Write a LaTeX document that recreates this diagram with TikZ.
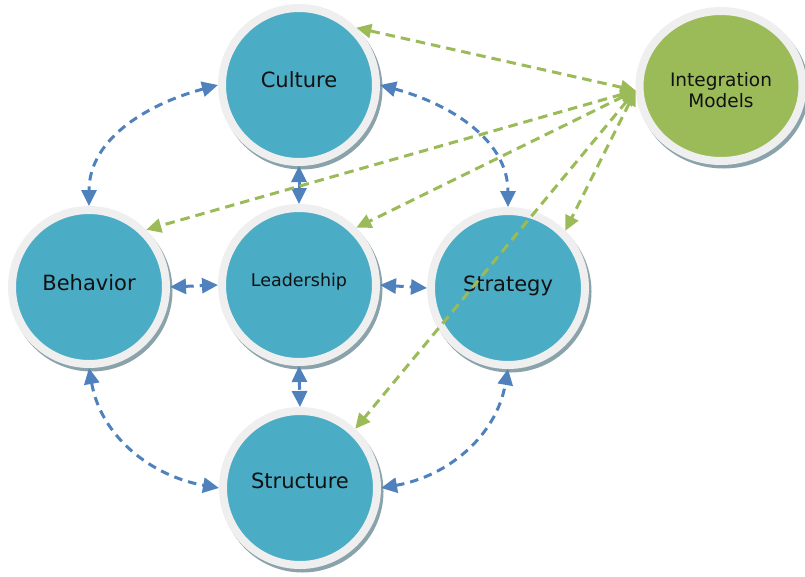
\documentclass[tikz,border=0pt]{standalone}
\usepackage{fontspec}
\setmainfont{DejaVu Sans}
\usetikzlibrary{arrows.meta,shapes.geometric}
\definecolor{tealfill}{HTML}{4BACC6}
\definecolor{greenfill}{HTML}{9BBB59}
\definecolor{bluelink}{HTML}{4F81BD}
\definecolor{greenlink}{HTML}{9BBB59}
\definecolor{ringgray}{HTML}{EFEFEF}
\definecolor{shade}{HTML}{8AA3AB}
\definecolor{inktext}{HTML}{111111}

\begin{document}
\begin{tikzpicture}[x=1pt,y=-1pt,
  castshadow/.style={preaction={draw=shade, fill=shade, line width=#1,
      transform canvas={shift={(2.5pt,-3.5pt)}}}},
  topic/.style={circle, minimum size=154pt, inner sep=0pt, fill=tealfill,
      draw=ringgray, line width=8pt, castshadow=8pt},
  hubnode/.style={ellipse, minimum width=163pt, minimum height=150pt, inner sep=0pt,
      fill=greenfill, draw=ringgray, line width=8pt, castshadow=8pt},
  lbl/.style={text=inktext, inner sep=0pt, text height=0.73em, text depth=0pt,
      font=\fontsize{21}{25}\selectfont},
  bluearrow/.style={draw=bluelink, line width=3pt, dash pattern=on 8.5pt off 6pt,
      {Triangle[length=16pt,width=15pt]}-{Triangle[length=16pt,width=15pt]}},
  greenarrow/.style={draw=greenlink, line width=3pt, dash pattern=on 9.5pt off 6pt,
      {Triangle[length=15pt,width=14pt]}-{Triangle[length=15pt,width=14pt]}}
]
\useasboundingbox (0,0) rectangle (805,576);

% topic circles
\node[topic] (cul) at (299,85) {};
\node[topic] (beh) at (89,287) {};
\node[topic] (lea) at (299,285) {};
\node[topic] (str) at (508,288) {};
\node[topic] (stc) at (300,488) {};
\node[hubnode] (int) at (721,86) {};

% labels
\node[lbl] (cul-t) at (299,84) {Culture};
\node[lbl] (beh-t) at (89,287) {Behavior};
\node[lbl, font=\fontsize{17.5}{21}\selectfont] (lea-t) at (299,282.5) {Leadership};
\node[lbl] (str-t) at (508,288) {Strategy};
\node[lbl] (stc-t) at (300,485) {Structure};
\node[text=inktext, inner sep=0pt, align=center,
      font=\fontsize{18.5}{21.5}\selectfont] (int-t) at (721,90) {Integration\\Models};

% links between the topics
\draw[bluearrow] (cul.180) to[out=195, in=90] (beh.90);
\draw[bluearrow] (cul.0) to[out=-15, in=90] (str.90);
\draw[bluearrow] (beh.-90) to[out=-80, in=170] (stc.180);
\draw[bluearrow] (stc.0) to[out=10, in=-100] (str.-90);
\draw[bluearrow] (cul.-90) -- (lea.90);
\draw[bluearrow] (lea.-90) -- (stc.90);
\draw[bluearrow] (beh.0) -- (lea.180);
\draw[bluearrow] (lea.0) -- (str.180);

% links from the integration models
\coordinate (hub) at (int.183);
\draw[greenarrow] (hub) -- (cul.45);
\draw[greenarrow] (hub) -- (beh.45);
\draw[greenarrow] (hub) -- (lea.45);
\draw[greenarrow] (hub) -- (str.45);
\draw[greenarrow] (hub) -- (stc.47);
\end{tikzpicture}
\end{document}
